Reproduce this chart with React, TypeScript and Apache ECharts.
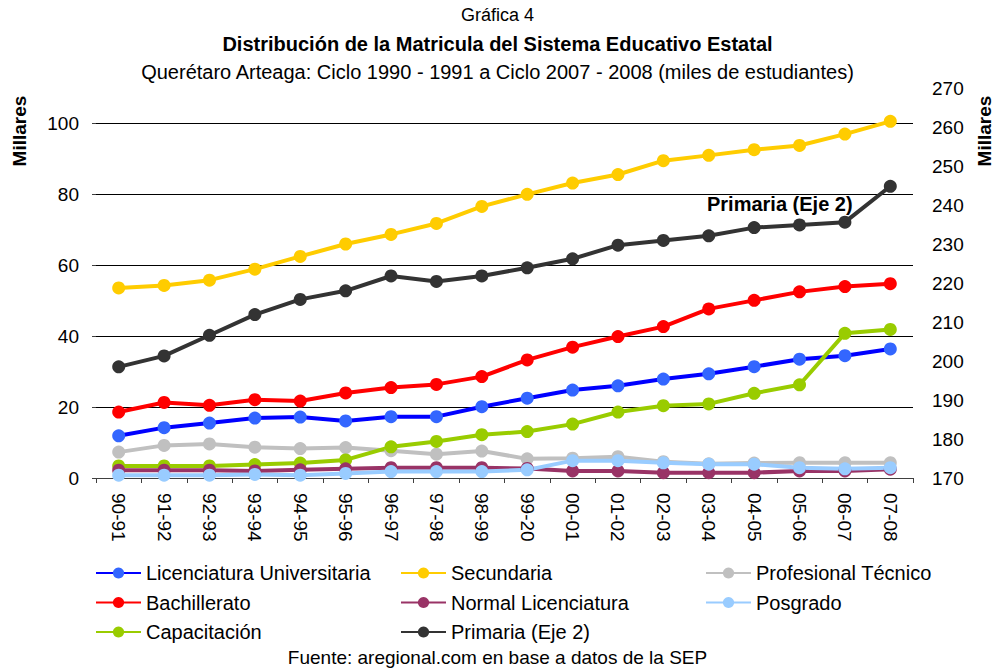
import React, { useEffect, useRef } from "react";
import * as echarts from "echarts";

const categories = ["90-91","91-92","92-93","93-94","94-95","95-96","96-97","97-98","98-99","99-20","00-01","01-02","02-03","03-04","04-05","05-06","06-07","07-08"];

const licenciatura = [11.9,14.2,15.5,16.9,17.2,16.1,17.3,17.3,20.1,22.5,24.8,26.0,27.9,29.4,31.4,33.5,34.5,36.4];
const bachillerato = [18.6,21.3,20.5,22.1,21.7,24.0,25.5,26.4,28.6,33.3,36.9,39.9,42.7,47.7,50.1,52.5,54.0,54.8];
const capacitacion = [3.4,3.4,3.4,3.8,4.2,5.1,8.8,10.3,12.2,13.1,15.2,18.6,20.4,20.9,23.9,26.3,40.8,41.9];
const secundaria = [53.6,54.3,55.8,58.9,62.5,66.0,68.7,71.8,76.6,80.0,83.2,85.6,89.5,91.0,92.6,93.8,97.0,100.6];
const normalLic = [2.2,2.2,2.2,2.0,2.3,2.6,2.9,2.9,2.9,2.7,2.0,2.0,1.5,1.5,1.5,2.0,2.0,2.5];
const primaria = [198.5,201.3,206.6,211.9,215.8,218.0,221.8,220.4,221.8,223.9,226.2,229.7,230.9,232.1,234.2,234.9,235.6,244.8];
const profTecnico = [7.3,9.2,9.6,8.7,8.3,8.6,7.7,6.7,7.6,5.4,5.6,6.0,4.6,4.0,4.2,4.3,4.3,4.3];
const posgrado = [0.8,0.8,0.8,1.0,0.8,1.3,1.8,1.8,1.8,2.3,4.9,4.9,4.3,3.9,3.9,2.9,2.6,2.9];

const leftTicks = { min: 0, max: 110, interval: 20 };
const rightTicks = { min: 170, max: 270, interval: 10 };

const FONT = "Liberation Sans, Arial, sans-serif";

export default function App() {
  const ref = useRef<HTMLDivElement>(null);
  useEffect(() => {
    if (!ref.current) return;
    const chart = echarts.init(ref.current, null, { renderer: "svg" });
    const mk = (name: string, data: number[], color: string, yAxisIndex = 0, symColor?: string) => ({
      name,
      type: "line",
      data,
      yAxisIndex,
      symbol: "circle",
      symbolSize: 13,
      lineStyle: { color, width: 4 },
      itemStyle: { color: symColor || color },
      color: symColor || color,
      emphasis: { disabled: true },
    });
    const legendText = { fontFamily: FONT, fontSize: 20, color: "#000" };
    const legendCommon = {
      orient: "vertical",
      itemWidth: 45,
      itemHeight: 14,
      itemGap: 9.5,
      padding: 0,
      textStyle: legendText,
      selectedMode: false,
    };
    const tTitle = (text: string, top: number, size: number, weight: string) => ({
      text, left: "center", top, padding: 0,
      textStyle: { fontFamily: FONT, fontSize: size, fontWeight: weight, color: "#000" },
    });
    chart.setOption({
      animation: false,
      textStyle: { fontFamily: FONT },
      title: [
        tTitle("Gráfica 4", 6, 18, "normal"),
        tTitle("Distribución de la Matricula del Sistema Educativo Estatal", 34, 20, "bold"),
        tTitle("Querétaro Arteaga: Ciclo 1990 - 1991 a Ciclo 2007 - 2008 (miles de estudiantes)", 62, 20, "normal"),
        tTitle("Fuente: aregional.com en base a datos de la SEP", 648, 19, "normal"),
      ],
      grid: { left: 96, right: 82, top: 88, bottom: 190, containLabel: false },
      xAxis: {
        type: "category",
        data: categories,
        boundaryGap: true,
        axisLine: { show: true, lineStyle: { color: "#404040", width: 1 } },
        axisTick: { show: true, length: 5, lineStyle: { color: "#404040" } },
        axisLabel: { rotate: -90, fontSize: 19, color: "#000", fontFamily: FONT, margin: 15, interval: 0 },
        splitLine: { show: false },
      },
      yAxis: [
        {
          type: "value",
          ...leftTicks,
          axisLine: { show: false },
          axisTick: { show: true, length: 4, lineStyle: { color: "#404040" } },
          axisLabel: { fontSize: 19, color: "#000", fontFamily: FONT, margin: 17, showMaxLabel: false },
          splitLine: { show: true, lineStyle: { color: ["#000", "#000", "#000", "#000", "#000", "#000", "rgba(0,0,0,0)"], width: 1 } },
        },
        {
          type: "value",
          ...rightTicks,
          position: "right",
          axisLine: { show: false },
          axisTick: { show: false },
          axisLabel: { fontSize: 19, color: "#000", fontFamily: FONT, margin: 19 },
          splitLine: { show: false },
        },
      ],
      legend: [
        { ...legendCommon, left: 95, top: 563, data: ["Licenciatura Universitaria", "Bachillerato", "Capacitación"] },
        { ...legendCommon, left: 400, top: 563, data: ["Secundaria", "Normal Licenciatura", "Primaria (Eje 2)"] },
        { ...legendCommon, left: 705, top: 563, data: ["Profesional Técnico", "Posgrado"] },
      ],
      graphic: [
        { type: "text", left: 707, top: 194, style: { text: "Primaria (Eje 2)", font: "bold 20px " + FONT, fill: "#000" } },
        { type: "text", x: 19, y: 131, rotation: Math.PI / 2, style: { text: "Millares", font: "bold 19px " + FONT, fill: "#000", align: "center", verticalAlign: "middle" } },
        { type: "text", x: 984, y: 131, rotation: Math.PI / 2, style: { text: "Millares", font: "bold 19px " + FONT, fill: "#000", align: "center", verticalAlign: "middle" } },
      ],
      series: [
        mk("Licenciatura Universitaria", licenciatura, "#0000FF", 0, "#3366FF"),
        mk("Bachillerato", bachillerato, "#FF0000"),
        mk("Secundaria", secundaria, "#FFCC00"),
        mk("Primaria (Eje 2)", primaria, "#333333", 1),
        mk("Profesional Técnico", profTecnico, "#C0C0C0"),
        mk("Capacitación", capacitacion, "#99CC00"),
        mk("Normal Licenciatura", normalLic, "#993366"),
        mk("Posgrado", posgrado, "#99CCFF"),
      ],
    });
    return () => chart.dispose();
  }, []);
  return <div ref={ref} style={{ width: 995, height: 668, position: "absolute", left: 0, top: 0, background: "#fff" }} />;
}
